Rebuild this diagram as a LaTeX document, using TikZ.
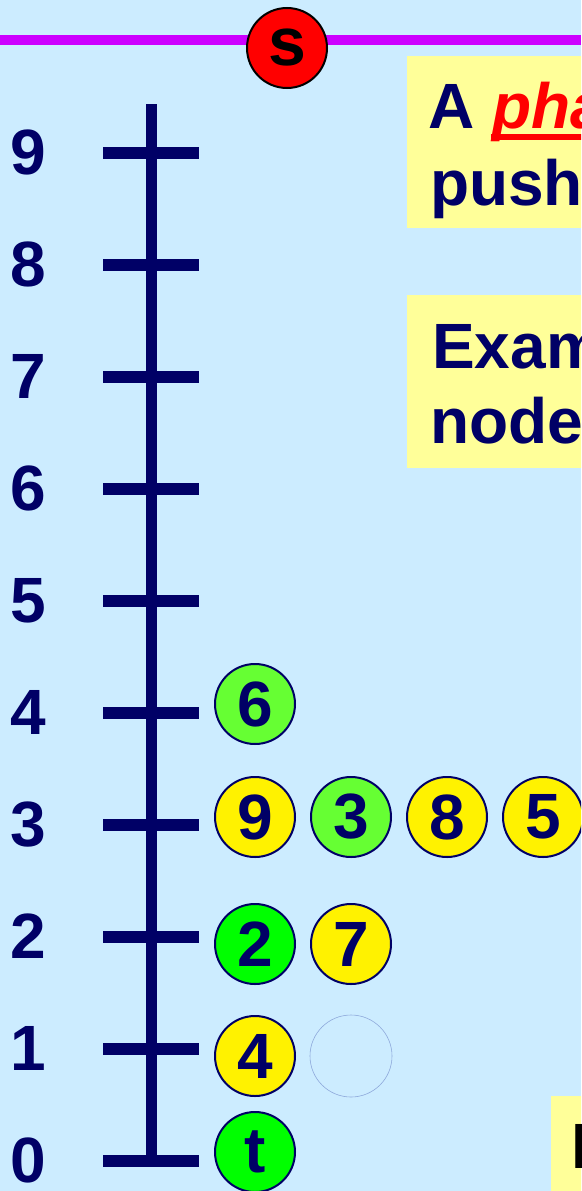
\documentclass[tikz,border=0pt]{standalone}
\usepackage{fontspec}
\setmainfont{Liberation Sans}
\definecolor{bgblue}{HTML}{CCECFF}
\definecolor{navy}{HTML}{000066}
\definecolor{purp}{HTML}{CC00FF}
\definecolor{paleyel}{HTML}{FFFF99}
\definecolor{ltgreen}{HTML}{66FF33}
\definecolor{brgreen}{HTML}{00FF00}
\definecolor{ghost}{HTML}{8EA9DB}
\tikzset{
  big/.style={font=\fontsize{64}{77}\selectfont\bfseries},
  ball/.style={circle, draw=navy, line width=2pt, minimum size=80pt, inner sep=0pt, big, text=navy},
  yball/.style={ball, fill=yellow},
  gball/.style={ball, fill=ltgreen},
  bball/.style={ball, fill=brgreen},
  lbl/.style={big, text=navy, inner sep=0pt},
  txt/.style={big, text=navy, inner sep=0pt, anchor=base west},
  axisline/.style={navy, line width=11pt},
  tickline/.style={navy, line width=12pt},
  notebox/.style={fill=paleyel, draw=none}
}
\begin{document}
\begin{tikzpicture}[x=1pt,y=-1pt]
\useasboundingbox (0,0) rectangle (581,1191);
\clip (0,0) rectangle (581,1191);
\fill[bgblue] (0,0) rectangle (581,1191);
% top line
\coordinate (L) at (0,40);
\coordinate (R) at (581,40);
\draw[purp, line width=10pt] (L) -- (R);
\node[circle, draw=black, line width=2pt, fill=red, minimum size=80pt, inner sep=0pt, font=\fontsize{68}{80}\selectfont\bfseries, text=black] (s) at (287,48) {s};
% axis
\coordinate (atop) at (151,104);
\coordinate (abot) at (151,1160);
\draw[axisline] (atop) -- (abot);
\foreach \i in {0,...,9}{
  \coordinate (tl\i) at (103,{1160.5-112*\i});
  \coordinate (tr\i) at (199,{1160.5-112*\i});
  \draw[tickline] (tl\i) -- (tr\i);
  \node[lbl] (n\i) at (28,{1160.5-112*\i}) {\i};
}
% text boxes
\fill[notebox] (407,56) rectangle (600,228);
\fill[red] (491,134) rectangle (600,140);
\node[txt] (t1) at (428,128) {A \textcolor{red}{\itshape pha}};
\node[txt] (t2) at (430,205) {push};
\fill[notebox] (407,295) rectangle (600,468);
\node[txt] (t3) at (432,368) {Exam};
\node[txt] (t4) at (430,443) {node};
\fill[notebox] (551,1096) rectangle (600,1200);
\node[txt, text=black] (t5) at (571,1168) {I};
% balls
\node[gball] (b6) at (255,704) {6};
\node[yball] (b9) at (255,817) {9};
\node[gball] (b3) at (351,817) {3};
\node[yball] (b8) at (447,817) {8};
\node[yball] (b5) at (543,817) {5};
\node[bball] (b2) at (255,944) {2};
\node[yball] (b7) at (351,944) {7};
\node[yball] (b4) at (255,1056) {4};
\node[circle, draw=ghost, line width=0.6pt, minimum size=82pt, inner sep=0pt] (e1) at (351,1056) {};
\node[bball] (bt) at (255,1152) {t};
\end{tikzpicture}
\end{document}
